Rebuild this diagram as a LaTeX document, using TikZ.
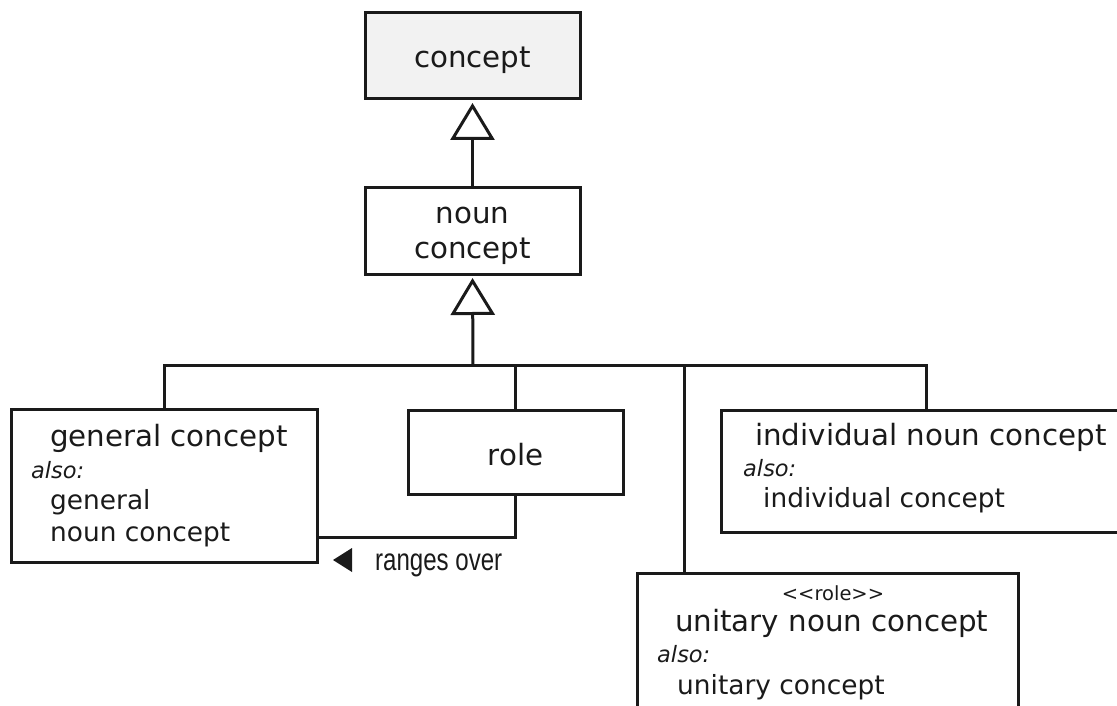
\documentclass[tikz,border=0pt]{standalone}
\usepackage{fontspec}
\setmainfont{DejaVu Sans}
\newfontfamily\rangesfont{Liberation Sans}
\usetikzlibrary{arrows.meta}
\definecolor{boxgray}{HTML}{F2F2F2}
\definecolor{inkcol}{HTML}{1A1A1A}
\begin{document}
\begin{tikzpicture}[x=1pt,y=-1pt,
  umlbox/.style={draw=inkcol, line width=3pt, inner sep=0pt, outer sep=0pt, anchor=north west},
  conn/.style={draw=inkcol, line width=3pt},
  genarrow/.style={conn, -{Triangle[open, width=44pt, length=37pt]}, shorten >=4pt},
  nametext/.style={inner sep=0pt, text=inkcol, font=\fontsize{29.3}{35}\selectfont},
  aliastext/.style={inner sep=0pt, text=inkcol, anchor=base west, font=\fontsize{26.4}{32}\selectfont},
  alsotext/.style={inner sep=0pt, text=inkcol, anchor=base west, font=\fontsize{22.5}{26}\selectfont\itshape},
  stereotext/.style={inner sep=0pt, text=inkcol, anchor=base, font=\fontsize{19.5}{23}\selectfont},
  rangeslabel/.style={inner sep=0pt, text=inkcol, anchor=base west, font=\rangesfont\fontsize{31}{36}\selectfont}
  ]
\useasboundingbox (0,0) rectangle (1117,706);
\clip (0,0) rectangle (1117,706);

% boxes
\node[umlbox, fill=boxgray, minimum width=215pt, minimum height=86pt] (concept) at (365,13) {};
\node[umlbox, minimum width=215pt, minimum height=86pt] (noun) at (365,188) {};
\node[umlbox, minimum width=306pt, minimum height=153pt] (general) at (11,409) {};
\node[umlbox, minimum width=215pt, minimum height=84pt] (role) at (408,410) {};
\node[umlbox, minimum width=410pt, minimum height=122pt] (ind) at (721,410) {};
\node[umlbox, minimum width=381pt, minimum height=200pt] (unitary) at (637,573) {};

% texts
\node[nametext, anchor=base] (tconcept) at (472.5,68) {concept};
\node[nametext, anchor=base] (tnoun1) at (472.5,223) {noun};
\node[nametext, anchor=base] (tnoun2) at (472.5,258) {concept};
\node[nametext, anchor=base] (trole) at (515.5,465) {role};

\node[nametext, anchor=base west] (tgen) at (50,446) {general concept};
\node[alsotext] (tgenalso) at (31,478) {also:};
\node[aliastext] (tgena1) at (50,509) {general};
\node[aliastext] (tgena2) at (50,541) {noun concept};

\node[nametext, anchor=base west] (tind) at (755,445) {individual noun concept};
\node[alsotext] (tindalso) at (743,476) {also:};
\node[aliastext] (tinda1) at (763,507) {individual concept};

\node[stereotext] (tstereo) at (833,600) {<\kern0pt<role>\kern0pt>};
\node[nametext, anchor=base west] (tuni) at (675,631) {unitary noun concept};
\node[alsotext] (tunialso) at (657,662) {also:};
\node[aliastext] (tunia1) at (677,694) {unitary concept};

% connectors
\coordinate (bar) at (473,365);
\draw[genarrow] (noun.north) -- (concept.south);
\draw[genarrow] (bar) -- (noun.south);
\draw[conn] (general.north) -- (general.north |- bar) -- (ind.north |- bar) -- (ind.north);
\draw[conn] (role.north) -- (role.north |- bar);
\coordinate (ujoin) at (684,573);
\draw[conn] (ujoin) -- (ujoin |- bar);
\coordinate (rg) at (general.east |- 0,537);
\draw[conn] (role.south) |- (rg);

% ranges over
\fill[inkcol] (333,560) -- (352,548) -- (352,572) -- cycle;
\node[rangeslabel] (tranges) at (375,570) {\scalebox{0.776}[1]{ranges over}};
\end{tikzpicture}
\end{document}
